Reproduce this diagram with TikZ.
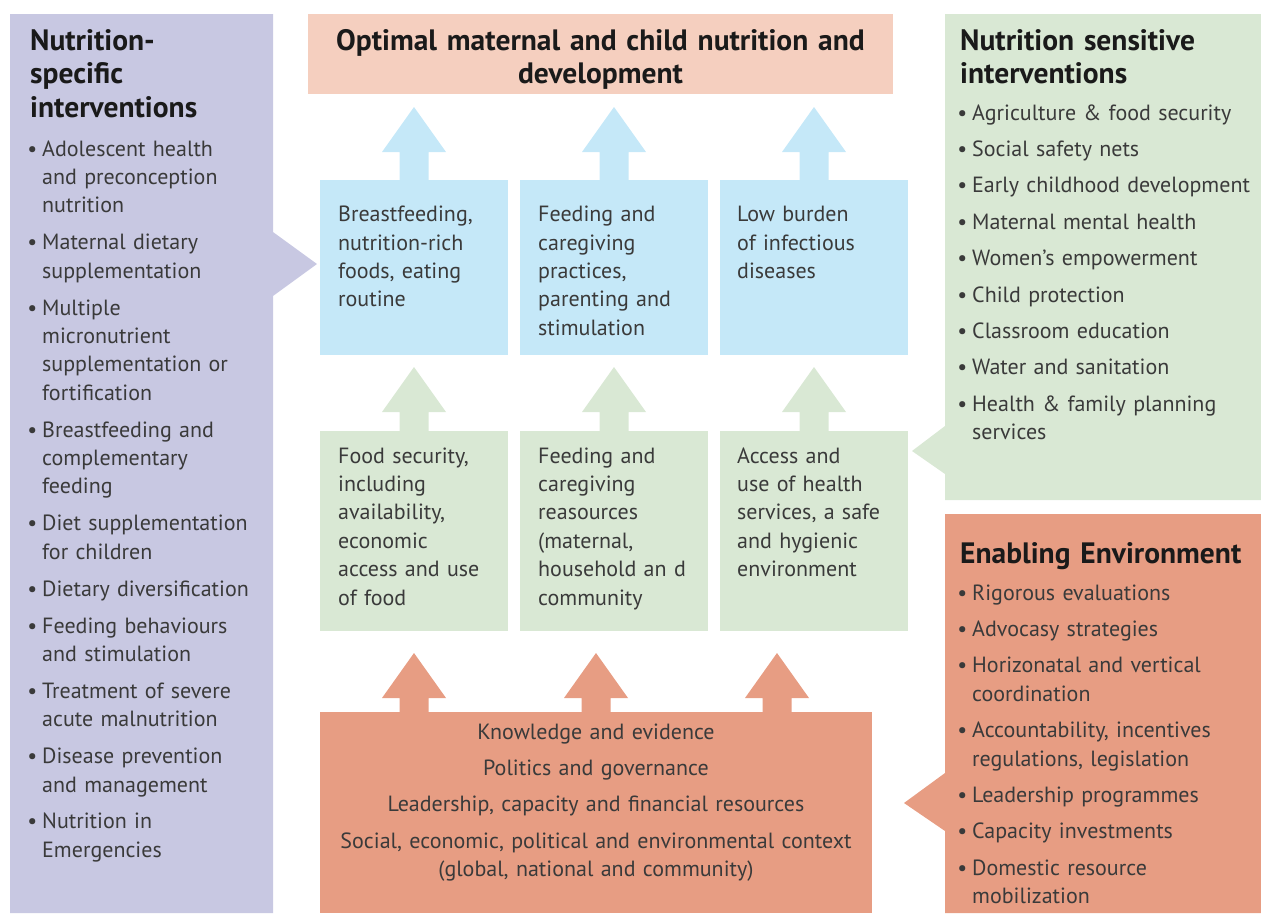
\documentclass[tikz,border=0pt]{standalone}
\usepackage{fontspec}
\setmainfont{PT Sans}
\definecolor{specific}{RGB}{200,200,226}
\definecolor{sensitive}{RGB}{217,232,212}
\definecolor{enabling}{RGB}{231,157,131}
\definecolor{goal}{RGB}{245,207,191}
\definecolor{outcome}{RGB}{197,232,248}
\definecolor{bodytext}{RGB}{58,58,58}
\definecolor{headtext}{RGB}{26,26,26}
% one up-pointing block arrow: colour, x, tip y, foot y
\newcommand\blockarrow[4]{%
  \fill[#1] (#2-14.5,#4) -- (#2-14.5,#3+45) -- (#2-32,#3+45) -- (#2,#3)
    -- (#2+32,#3+45) -- (#2+14.5,#3+45) -- (#2+14.5,#4) -- cycle;}
\newcommand\bmark{\llap{\textbullet\hspace{5pt}}}
\newcommand\bitem{\par\noindent\bmark}
\tikzset{
  heading/.style={inner sep=0, text width=#1, align=left, anchor=base west,
    text=headtext, font=\fontsize{29.5}{33.5}\selectfont\bfseries},
  heading/.default=300,
  boxtext/.style={inner sep=0, text width=#1, align=left, anchor=base west,
    text=bodytext, font=\fontsize{22}{28.4}\selectfont},
  boxtext/.default=185,
  itemlist/.style={boxtext=#1},
  itemlist/.default=300
}
\begin{document}
\begin{tikzpicture}[x=1pt,y=-1pt]
\useasboundingbox (0,0) rectangle (1261,913);
% side panels with their pointers
\fill[specific] (10,14) -- (273,14) -- (273,232) -- (317,264) -- (273,296) -- (273,913) -- (10,913) -- cycle;
\fill[sensitive] (945,14) -- (1261,14) -- (1261,500) -- (945,500) -- (945,474) -- (912,451) -- (945,426) -- cycle;
\fill[enabling] (945,514) -- (1261,514) -- (1261,913) -- (945,913) -- (945,831) -- (904,803) -- (945,773) -- cycle;
% middle column
\fill[goal] (308,14) rectangle (893,94);
\foreach \x in {320,520,720} {
  \fill[outcome] (\x,180) rectangle ++(188,175);
  \fill[sensitive] (\x,431) rectangle ++(188,200);
}
\fill[enabling] (320,712) rectangle (872,913);
\foreach \x in {414,614,814} {
  \blockarrow{outcome}{\x}{107}{180}
  \blockarrow{sensitive}{\x}{367}{431}
}
\foreach \x in {414,596,777} {\blockarrow{enabling}{\x}{653}{712}}

% texts
\node[heading=580, align=center, anchor=base] (goaltitle) at (600.5,50)
  {Optimal maternal and child nutrition and\\ development};
\node[heading=250] (spectitle) at (30,50) {Nutrition-\\specific\\interventions};
\node[itemlist=240] (speclist) at (42,156) {\setlength{\parskip}{8.5pt}%
  \bmark Adolescent health\newline and preconception\newline nutrition
  \bitem Maternal dietary\newline supplementation
  \bitem Multiple\newline micronutrient\newline supplementation or\newline fortification
  \bitem Breastfeeding and\newline complementary\newline feeding
  \bitem Diet supplementation\newline for children
  \bitem Dietary diversification
  \bitem Feeding behaviours\newline and stimulation
  \bitem Treatment of severe\newline acute malnutrition
  \bitem Disease prevention\newline and management
  \bitem Nutrition in\newline Emergencies};

\node[heading] (senstitle) at (960,50) {Nutrition sensitive\\ interventions};
\node[itemlist] (senslist) at (972,120) {\setlength{\parskip}{8pt}%
  \bmark Agriculture \& food security
  \bitem Social safety nets
  \bitem Early childhood development
  \bitem Maternal mental health
  \bitem Women’s empowerment
  \bitem Child protection
  \bitem Classroom education
  \bitem Water and sanitation
  \bitem Health \& family planning\newline services};

\node[heading] (enabtitle) at (960,563) {Enabling Environment};
\node[itemlist] (enablist) at (972,600) {\setlength{\parskip}{8pt}%
  \bmark Rigorous evaluations
  \bitem Advocasy strategies
  \bitem Horizonatal and vertical\newline coordination
  \bitem Accountability, incentives\newline regulations, legislation
  \bitem Leadership programmes
  \bitem Capacity investments
  \bitem Domestic resource\newline mobilization};

\node[boxtext] (out1) at (338,221.7) {Breastfeeding,\\ nutrition-rich\\ foods, eating\\ routine};
\node[boxtext] (out2) at (538,221.7) {Feeding and\\ caregiving\\ practices,\\ parenting and\\ stimulation};
\node[boxtext] (out3) at (737,221.7) {Low burden\\ of infectious\\ diseases};

\node[boxtext] (res1) at (338,463) {Food security,\\ including\\ availability,\\ economic\\ access and use\\ of food};
\node[boxtext] (res2) at (538,463) {Feeding and\\ caregiving\\ reasources\\ (maternal,\\ household an d\\ community};
\node[boxtext] (res3) at (737,463) {Access and\\ use of health\\ services, a safe\\ and hygienic\\ environment};

\node[boxtext=545, align=center, anchor=base] (context) at (596,739)
  {Knowledge and evidence\\[8pt] Politics and governance\\[8pt]
   Leadership, capacity and financial resources\\[8pt]
   Social, economic, political and environmental context\\
   (global, national and community)};
\end{tikzpicture}
\end{document}
